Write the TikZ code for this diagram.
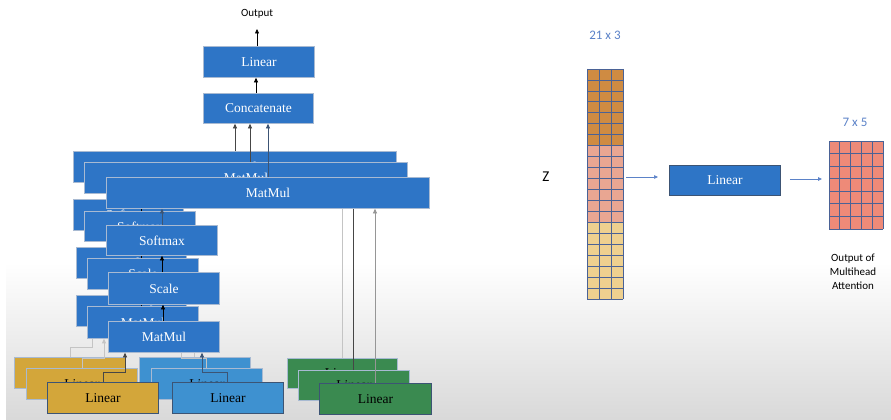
\documentclass[tikz,border=0pt]{standalone}
\usepackage{fontspec}
\setmainfont{Liberation Serif}
\newfontfamily\carl{Carlito}
\usetikzlibrary{arrows.meta}
\definecolor{boxblue}{RGB}{46,117,198}
\definecolor{boxline}{RGB}{168,186,210}
\definecolor{frontline}{RGB}{60,84,116}
\definecolor{yel}{RGB}{211,166,58}
\definecolor{lblue}{RGB}{62,145,208}
\definecolor{grn}{RGB}{58,138,80}
\definecolor{zor}{RGB}{207,139,66}
\definecolor{zsal}{RGB}{233,166,146}
\definecolor{zpal}{RGB}{238,208,143}
\definecolor{osal}{RGB}{238,138,120}
\definecolor{gridc}{RGB}{74,98,150}
\definecolor{dimtxt}{RGB}{91,130,200}
\definecolor{lgray}{RGB}{196,196,196}
\definecolor{mgray}{RGB}{150,150,150}
\definecolor{dgray}{RGB}{70,70,70}
\begin{document}
\begin{tikzpicture}[x=1pt,y=-1pt,
  bbox/.style={draw=boxline, line width=0.8pt, fill=boxblue, text=white, inner sep=0pt,
    anchor=north west, font=\fontsize{13.5}{15}\selectfont},
  ybox/.style={bbox, fill=yel, text=black},
  lbbox/.style={bbox, fill=lblue, text=black},
  gbox/.style={bbox, fill=grn, text=black},
  frontb/.style={draw=frontline},
  arr/.style={-{Triangle[length=4.5pt,width=4pt]}, line width=0.6pt, draw=black},
  lightarr/.style={-{Triangle[length=4.5pt,width=4pt]}, line width=0.8pt, draw=lgray, color=lgray},
  sanslab/.style={font=\carl\fontsize{11}{14}\selectfont, inner sep=0pt, align=center},
  bluearr/.style={-{Triangle[length=4pt,width=3.5pt]}, line width=0.6pt, draw=dimtxt, color=dimtxt}
]
\useasboundingbox (0,0) rectangle (891,420);
\fill[white] (0,0) rectangle (891,420);
\shade[top color=white, bottom color=black!15] (6,262) rectangle (891,420);

% top part
\node[bbox, minimum width=110pt, minimum height=30pt] (cat) at (203,93) {Concatenate};
\node[bbox, minimum width=111pt, minimum height=31pt] (lin) at (203,46) {Linear};
\node[sanslab] (out) at (257,14) {Output};
\coordinate (outa) at (257,29);
\draw[arr] (257,0 |- lin.north) -- (outa);
\draw[arr] (256,0 |- cat.north) -- (256,0 |- lin.south);

% ---------- layer 1 (back) ----------
\node[bbox, minimum width=323pt, minimum height=31pt] (mm1) at (73,151) {MatMul};
\node[bbox, minimum width=110pt, minimum height=31pt] (sm1) at (73,199) {Softmax};
\node[bbox, minimum width=110pt, minimum height=31pt] (sc1) at (76,247) {Scale};
\node[bbox, minimum width=110pt, minimum height=31pt] (ml1) at (76,295) {MatMul};
\node[ybox, minimum width=111pt, minimum height=31pt] (y1) at (14,357) {Linear};
\node[lbbox, minimum width=111pt, minimum height=31pt] (b1) at (139,357) {Linear};
\node[gbox, minimum width=110pt, minimum height=30pt] (g1) at (287,358) {Linear};
\draw[arr, draw=dgray] (235,0 |- mm1.north) -- (235,0 |- cat.south);
\draw[arr] (129,0 |- sm1.north) -- (129,0 |- mm1.south);
\draw[arr] (129,0 |- sc1.north) -- (129,0 |- sm1.south);
\draw[arr] (130,0 |- ml1.north) -- (130,0 |- sc1.south);
\draw[lightarr] (70,0 |- y1.north) -- ++(0,-10) -| (92,0 |- ml1.south);
\draw[lightarr] (194,0 |- b1.north) -- ++(0,-10) -| (169,0 |- ml1.south);
\draw[lightarr] (342,0 |- g1.north) -- (342,0 |- mm1.south);

% ---------- layer 2 ----------
\node[bbox, minimum width=323pt, minimum height=31pt] (mm2) at (84,162) {MatMul};
\node[bbox, minimum width=111pt, minimum height=30pt] (sm2) at (84,211) {Softmax};
\node[bbox, minimum width=111pt, minimum height=31pt] (sc2) at (87,258) {Scale};
\node[bbox, minimum width=111pt, minimum height=32pt] (ml2) at (87,306) {MatMul};
\node[ybox, minimum width=111pt, minimum height=31pt] (y2) at (26,368) {Linear};
\node[lbbox, minimum width=111pt, minimum height=31pt] (b2) at (151,368) {Linear};
\node[gbox, minimum width=111pt, minimum height=30pt] (g2) at (298,370) {Linear};
\draw[arr, draw=dgray] (250,0 |- mm2.north) -- (250,0 |- cat.south);
\draw[arr] (141,0 |- sm2.north) -- (141,0 |- mm2.south);
\draw[arr] (141,0 |- sc2.north) -- (141,0 |- sm2.south);
\draw[arr] (141,0 |- ml2.north) -- (141,0 |- sc2.south);
\draw[lightarr] (82,0 |- y2.north) -- ++(0,-10) -| (104,0 |- ml2.south);
\draw[lightarr] (206,0 |- b2.north) -- ++(0,-10) -| (181,0 |- ml2.south);
\draw[arr, draw=dgray] (353,0 |- g2.north) -- (353,0 |- mm2.south);

% ---------- layer 3 (front) ----------
\node[bbox, minimum width=323pt, minimum height=31pt] (mm3) at (106,177) {MatMul};
\node[bbox, minimum width=111pt, minimum height=30pt] (sm3) at (106,225) {Softmax};
\node[bbox, minimum width=111pt, minimum height=32pt] (sc3) at (108,272) {Scale};
\node[bbox, minimum width=111pt, minimum height=31pt] (ml3) at (108,321) {MatMul};
\node[ybox, frontb, minimum width=111pt, minimum height=31pt] (y3) at (47,382) {Linear};
\node[lbbox, frontb, minimum width=111pt, minimum height=31pt] (b3) at (172,382) {Linear};
\node[gbox, frontb, minimum width=112pt, minimum height=31pt] (g3) at (319,383) {Linear};
\draw[arr, draw=frontline] (268,0 |- mm3.north) -- (268,0 |- cat.south);
\draw[arr, draw=frontline] (162,0 |- sm3.north) -- (162,0 |- mm3.south);
\draw[arr] (162,0 |- sc3.north) -- (162,0 |- sm3.south);
\draw[arr] (163,0 |- ml3.north) -- (163,0 |- sc3.south);
\draw[arr, draw=dgray] (103,0 |- y3.north) -- ++(0,-10) -| (125,0 |- ml3.south);
\draw[arr, draw=frontline] (227,0 |- b3.north) -- ++(0,-10) -| (202,0 |- ml3.south);
\draw[arr, draw=mgray] (375,0 |- g3.north) -- (375,0 |- mm3.south);

% ---------- right side ----------
\node[sanslab, text=dimtxt, font=\carl\fontsize{13}{15}\selectfont] (d1) at (605,35) {21 x 3};
\node[sanslab, font=\carl\fontsize{15}{17}\selectfont] (zl) at (546,177) {Z};
\node[inner sep=0pt, minimum width=36pt, minimum height=230pt, anchor=north west] (zmat) at (587,69) {};
\fill[zor] (587,69) rectangle (623,{69+7*230/21});
\fill[zsal] (587,{69+7*230/21}) rectangle (623,{69+14*230/21});
\fill[zpal] (587,{69+14*230/21}) rectangle (623,299);
\foreach \i in {0,...,21} \draw[gridc, line width=0.8pt] (587,{69+\i*230/21}) -- (623,{69+\i*230/21});
\foreach \j in {0,...,3} \draw[gridc, line width=0.8pt] ({587+12*\j},69) -- ({587+12*\j},299);

\node[bbox, frontb, minimum width=111pt, minimum height=30pt] (rlin) at (669,165) {Linear};

\node[sanslab, text=dimtxt, font=\carl\fontsize{13}{15}\selectfont] (d2) at (855,122) {7 x 5};
\node[inner sep=0pt, minimum width=54pt, minimum height=88pt, anchor=north west] (omat) at (829,141) {};
\fill[osal] (829,141) rectangle (883,229);
\foreach \i in {0,...,7} \draw[gridc, line width=0.8pt] (829,{141+\i*88/7}) -- (883,{141+\i*88/7});
\foreach \j in {0,...,5} \draw[gridc, line width=0.8pt] ({829+10.8*\j},141) -- ({829+10.8*\j},229);
\node[sanslab] (olab) at (853,272) {Output of\\Multihead\\Attention};

\draw[bluearr, shorten <=3pt, shorten >=11pt] (zmat.east |- 0,177) -- (rlin.west |- 0,177);
\draw[-{Triangle[length=4pt,width=3.5pt]}, line width=0.8pt, draw=lgray, color=dimtxt, shorten <=9pt, shorten >=7pt] (rlin.east |- 0,179) -- (omat.west |- 0,179);
\end{tikzpicture}
\end{document}
